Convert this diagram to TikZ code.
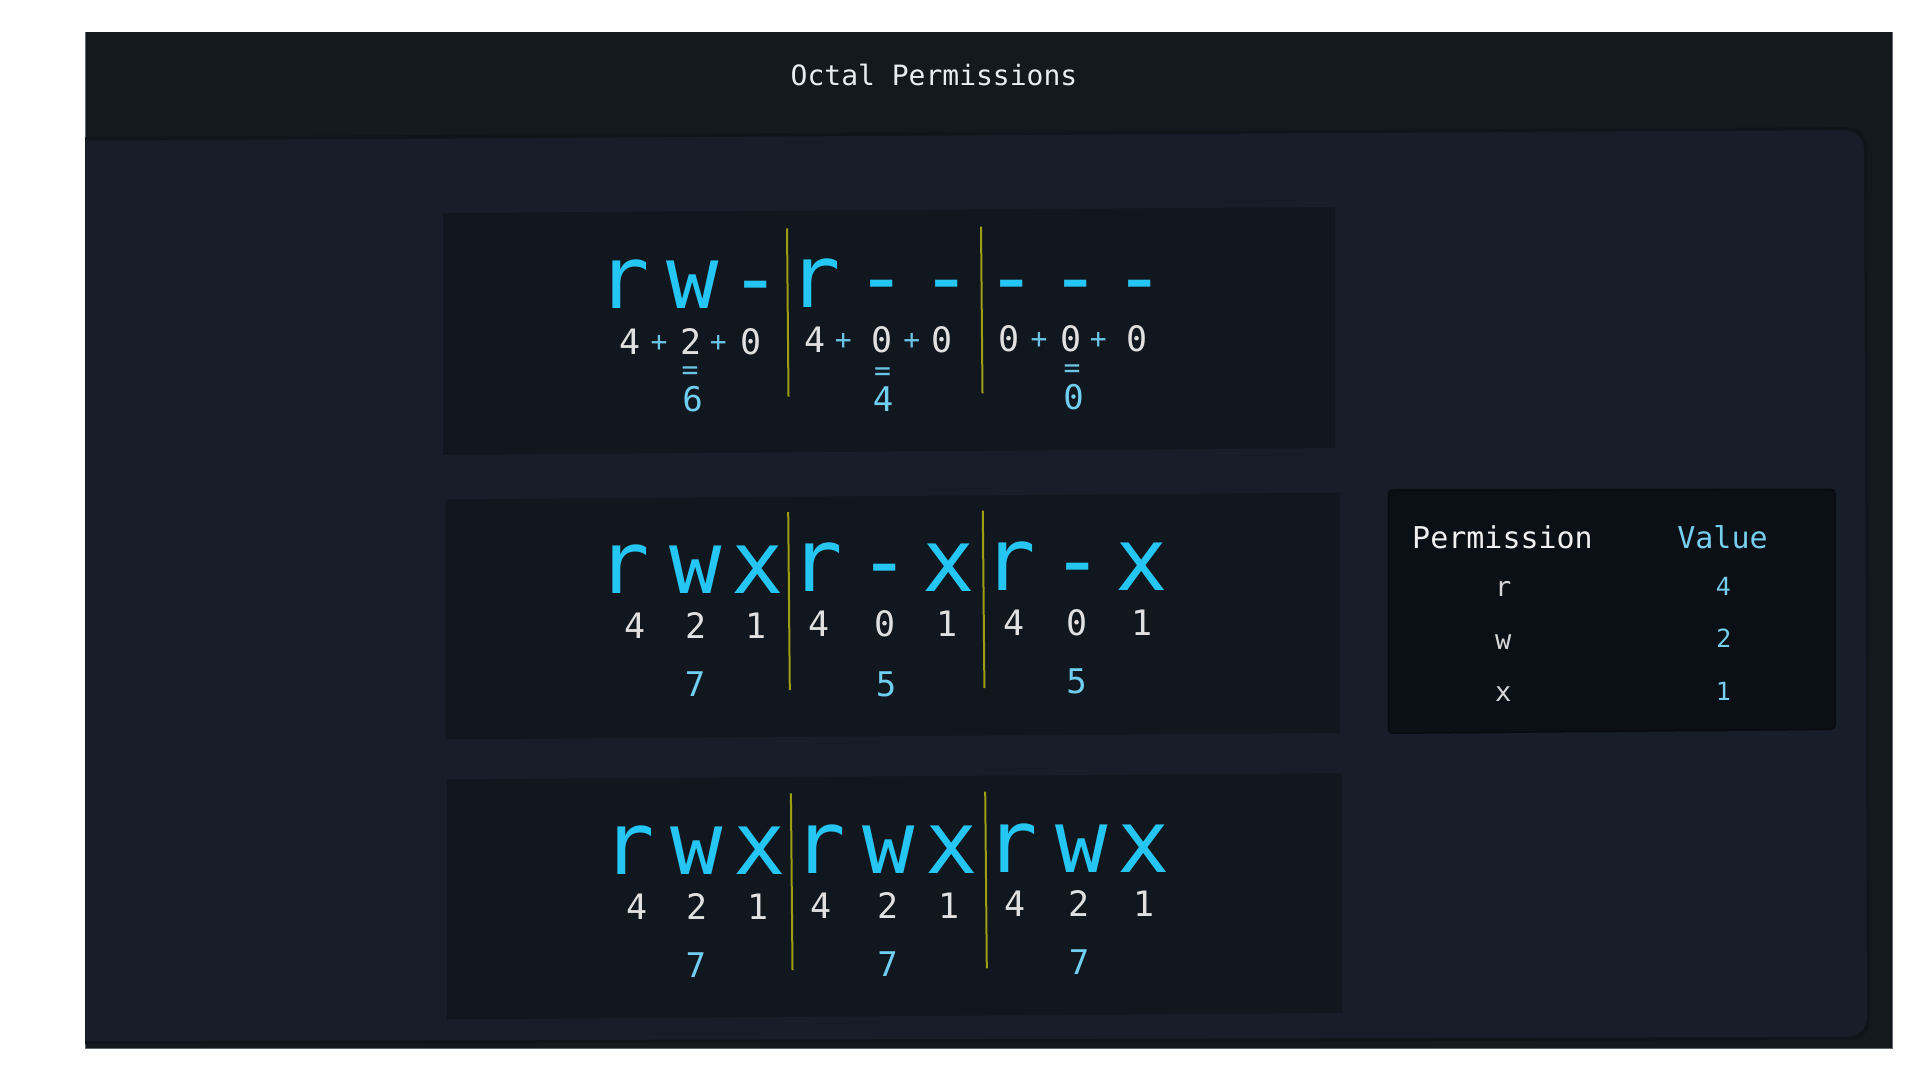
\documentclass[tikz,border=0pt]{standalone}
\usepackage{fontspec}
\newfontfamily\mono{DejaVu Sans Mono}
\definecolor{framec}{RGB}{19,25,31}
\definecolor{frameline}{RGB}{95,101,108}
\definecolor{panelc}{RGB}{24,30,41}
\definecolor{shadowc}{RGB}{16,21,27}
\definecolor{boxc}{RGB}{17,23,30}
\definecolor{tablec}{RGB}{11,15,22}
\definecolor{tableline}{RGB}{8,11,16}
\definecolor{bigc}{RGB}{38,198,244}
\definecolor{digc}{RGB}{224,224,224}
\definecolor{opc}{RGB}{108,196,228}
\definecolor{resc}{RGB}{112,206,240}
\definecolor{titlec}{RGB}{230,237,243}
\definecolor{sepc}{RGB}{158,158,20}
\definecolor{headc}{RGB}{240,240,240}
\definecolor{valc}{RGB}{118,206,238}
\definecolor{rowc}{RGB}{215,215,215}
\tikzset{
  glyph/.style={anchor=base, inner sep=0pt, outer sep=0pt},
  bigl/.style={glyph, text=bigc, font=\mono\fontsize{87}{87}\selectfont},
  dig/.style={glyph, text=digc, font=\mono\fontsize{35}{35}\selectfont},
  opl/.style={glyph, text=opc, font=\mono\fontsize{28}{28}\selectfont},
  res/.style={glyph, text=resc, font=\mono\fontsize{34}{34}\selectfont},
  sepline/.style={draw=sepc, line width=2pt},
  permbox/.style={fill=boxc},
  titletext/.style={glyph, text=titlec, font=\mono\fontsize{28}{28}\selectfont},
  headtext/.style={glyph, font=\mono\fontsize{30}{30}\selectfont},
  rowtext/.style={glyph, text=rowc, font=\mono\fontsize{27}{27}\selectfont},
  valtext/.style={glyph, text=valc, font=\mono\fontsize{25}{25}\selectfont}
}
\begin{document}
\begin{tikzpicture}[x=1pt,y=-1pt]
\useasboundingbox (0,0) rectangle (1920,1080);
\fill[white] (0,0) rectangle (1920,1080);
% outer frame
\fill[framec] (85,32) rectangle (1892,1048);
\draw[frameline, line width=1pt] (85,32) -- (85,1048) -- (1892,1048) -- (1892,32);
% panel shadow and panel
\fill[shadowc] (85,137) [rounded corners=20pt] -- (1867,127) -- (1870,1040) [sharp corners] -- (85,1044) -- cycle;
\fill[panelc] (85,140.7) [rounded corners=20pt] -- (1864,130) -- (1867,1037) [sharp corners] -- (85,1041) -- cycle;
% title
\node[titletext] (title) at (934,85.7) {Octal Permissions};
% boxes
\fill[permbox] (443,213) -- (1335,207) -- (1335,448) -- (443,455) -- cycle;
\fill[permbox] (445.7,499.3) -- (1340,492.7) -- (1340,733) -- (445.7,739.3) -- cycle;
\fill[permbox] (447,779.3) -- (1342,773.3) -- (1342,1013) -- (447,1019.3) -- cycle;
% table box
\filldraw[fill=tablec, draw=tableline, line width=1.5pt, rounded corners=4pt] (1388.3,490) -- (1835,489.3) -- (1835,729.3) -- (1388.3,733.3) -- cycle;

% ---------- row 1 ----------
\foreach \x/\y/\t [count=\i] in {624/308.5/r, 693/308.5/w, 756/308.5/-, 815/307.5/r, 882/307.5/-, 947/307.5/-, 1011.5/307/-, 1076/307/-, 1140/307/-}
  \node[bigl] (ra\i) at (\x,\y) {\t};
\foreach \x/\y/\t [count=\i] in {630/354/4, 691/354/2, 750.8/354/0, 815/352.7/4, 882/352.7/0, 942.5/352.7/0, 1008.8/351.7/0, 1070.8/351.7/0, 1137.5/351.7/0}
  \node[dig] (na\i) at (\x,\y) {\t};
\foreach \x/\y [count=\i] in {659/351, 718.3/351, 843.3/349.7, 911.7/349.7, 1039/348.7, 1098.4/348.7}
  \node[opl] (pa\i) at (\x,\y) {+};
\foreach \x/\y [count=\i] in {690/379.5, 882.5/380, 1072/377.7}
  \node[opl] (ea\i) at (\x,\y) {=};
\foreach \x/\y/\t [count=\i] in {692.7/411.5/6, 883/411/4, 1073.5/409/0}
  \node[res] (sa\i) at (\x,\y) {\t};
\draw[sepline] (787,228.3) -- (788.5,396.7);
\draw[sepline] (981,226.7) -- (982.5,393.3);

% ---------- row 2 ----------
\foreach \x/\y/\t [count=\i] in {624/593/r, 695.5/593/w, 758/593/x, 817/591.5/r, 885/591.5/-, 949/591.5/x, 1009.6/590/r, 1077.8/590/-, 1141.7/590/x}
  \node[bigl] (rb\i) at (\x,\y) {\t};
\foreach \x/\y/\t [count=\i] in {635/638/4, 696/638/2, 755.7/638/1, 819.5/636.5/4, 885.5/636.5/0, 947.5/636.5/1, 1014/635/4, 1077/635/0, 1142/635/1}
  \node[dig] (nb\i) at (\x,\y) {\t};
\foreach \x/\y/\t [count=\i] in {695/696.7/7, 886/696/5, 1076.5/693.5/5}
  \node[res] (sb\i) at (\x,\y) {\t};
\draw[sepline] (788.2,512) -- (789.8,690);
\draw[sepline] (982.8,510.7) -- (984.4,688);

% ---------- row 3 ----------
\foreach \x/\y/\t [count=\i] in {628.3/874/r, 697/874/w, 759.7/874/x, 820/873.3/r, 889/873.3/w, 951.3/873.3/x, 1011.5/872.7/r, 1082/872.7/w, 1143.8/872.7/x}
  \node[bigl] (rc\i) at (\x,\y) {\t};
\foreach \x/\y/\t [count=\i] in {636.7/919.3/4, 697.2/919.3/2, 757.7/919.3/1, 820.7/918.3/4, 888.3/918.3/2, 949.5/918.3/1, 1015/916.5/4, 1079.5/916.5/2, 1144.4/916.5/1}
  \node[dig] (nc\i) at (\x,\y) {\t};
\foreach \x/\y/\t [count=\i] in {695.8/977/7, 887.5/976.5/7, 1079/974/7}
  \node[res] (sc\i) at (\x,\y) {\t};
\draw[sepline] (790.9,793.3) -- (792.5,970);
\draw[sepline] (985.2,791.7) -- (986.8,968.3);

% ---------- table ----------
\node[headtext, text=headc] (hperm) at (1502.5,548.3) {Permission};
\node[headtext, text=valc] (hval) at (1722.5,548) {Value};
\node[rowtext] (tr) at (1503.3,596.7) {r};
\node[rowtext] (tw) at (1503.3,649) {w};
\node[rowtext] (tx) at (1503.3,701.7) {x};
\node[valtext] (v4) at (1723.3,595) {4};
\node[valtext] (v2) at (1724,647.3) {2};
\node[valtext] (v1) at (1723.3,700) {1};
\end{tikzpicture}
\end{document}
